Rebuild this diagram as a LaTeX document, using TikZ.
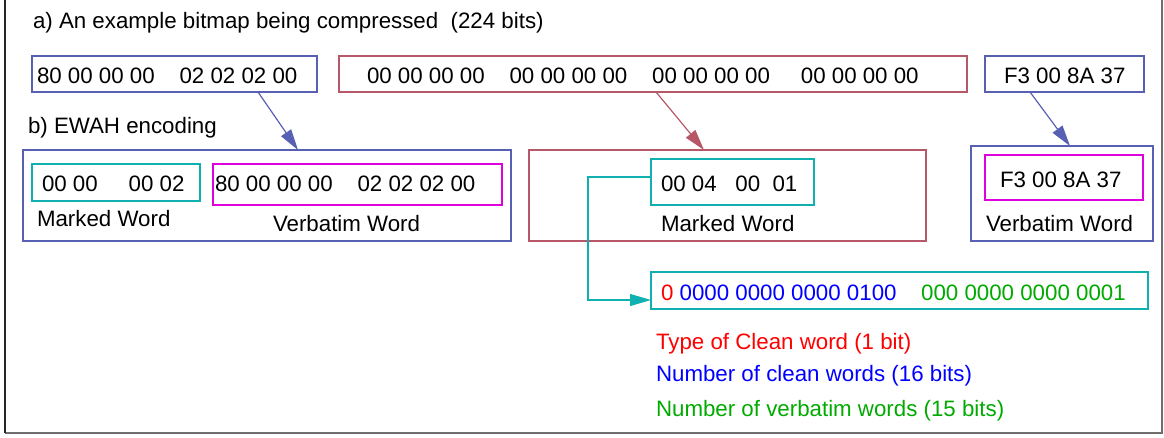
\documentclass[tikz,border=0pt]{standalone}
\usepackage{fontspec}
\setmainfont{Liberation Sans}
\usetikzlibrary{arrows.meta,calc}
\definecolor{bl}{RGB}{88,96,180}
\definecolor{rd}{RGB}{182,88,104}
\definecolor{cy}{RGB}{16,176,176}
\definecolor{mg}{RGB}{222,0,222}
\definecolor{tred}{RGB}{255,0,0}
\definecolor{tblue}{RGB}{0,0,255}
\definecolor{tgreen}{RGB}{0,170,0}
\definecolor{frameg}{RGB}{110,110,110}
\tikzset{
  box/.style={draw, line width=1.2pt, anchor=north west, outer sep=0pt, inner sep=0pt},
  txt/.style={anchor=base west, inner sep=0pt, outer sep=0pt, font=\fontsize{22.3pt}{26pt}\selectfont},
  conn/.style={line width=1.2pt, -{Triangle[length=21pt,width=12pt]}},
}
\begin{document}
\begin{tikzpicture}[x=1pt,y=-1pt]
\useasboundingbox (0,0) rectangle (1164,437);
% frame
\draw[frameg, line width=1.4pt] (5,433) -- (1162,433) -- (1162,0);
\draw[black!85, line width=1.4pt] (5,0) -- (5,433);

% titles
\node[txt] (ta) at (33,28.5) {a) An example bitmap being compressed~~(224 bits)};
\node[txt] (tb) at (28,133) {b) EWAH encoding};

% row a
\node[box, draw=bl, minimum width=285pt, minimum height=36pt] (A1) at (32,56) {};
\node[txt] (A1t) at (37,83.3) {80 00 00 00~~~~02 02 02 00};
\node[box, draw=rd, minimum width=628pt, minimum height=36pt] (A2) at (339,56) {};
\node[txt] (A2t) at (367,83.3) {00 00 00 00~~~~00 00 00 00~~~~00 00 00 00~~~~~00 00 00 00};
\node[box, draw=bl, minimum width=159pt, minimum height=36pt] (A3) at (985,56) {};
\node[txt] (A3t) at (1004,83.3) {F3 00 8A 37};

% row b, group 1
\node[box, draw=bl, minimum width=488pt, minimum height=91pt] (B1) at (23,150) {};
\node[box, draw=cy, minimum width=168pt, minimum height=37pt] (C1) at (32,164) {};
\node[txt] (C1t) at (42,191.7) {00 00~~~~~00 02};
\node[box, draw=mg, minimum width=289pt, minimum height=41pt] (M1) at (213,164) {};
\node[txt] (M1t) at (215,191.7) {80 00 00 00~~~~02 02 02 00};
\node[txt] (L1) at (37,226.7) {Marked Word};
\node[txt] (L2) at (273,231.7) {Verbatim Word};

% row b, group 2
\node[box, draw=rd, minimum width=397pt, minimum height=91pt] (B2) at (529,150) {};
\node[box, draw=cy, minimum width=163pt, minimum height=46pt] (C2) at (651,159) {};
\node[txt] (C2t) at (661,191.7) {00 04~~~00~~01};
\node[txt] (L3) at (661,231.7) {Marked Word};

% row b, group 3
\node[box, draw=bl, minimum width=182pt, minimum height=95pt] (B3) at (971,146) {};
\node[box, draw=mg, minimum width=158pt, minimum height=45pt] (M3) at (985,155) {};
\node[txt] (M3t) at (1000,187.3) {F3 00 8A 37};
\node[txt] (L4) at (986,231.7) {Verbatim Word};

% marked word detail
\node[box, draw=cy, minimum width=497pt, minimum height=37pt] (C3) at (651,272) {};
\node[txt] (C3t) at (661,300) {\textcolor{tred}{0}~\textcolor{tblue}{0000 0000 0000 0100}\hspace{1.1em}\textcolor{tgreen}{000 0000 0000 0001}};

% legend
\node[txt, text=tred] (g1) at (656,349) {Type of Clean word (1 bit)};
\node[txt, text=tblue] (g2) at (656,381) {Number of clean words (16 bits)};
\node[txt, text=tgreen] (g3) at (656,416.5) {Number of verbatim words (15 bits)};

% connectors
\draw[conn, bl] ($(A1.south west)+(226,0)$) -- ($(B1.north west)+(275,0)$);
\draw[conn, rd] ($(A2.south west)+(317,0)$) -- ($(B2.north west)+(175,0)$);
\draw[conn, bl] ($(A3.south west)+(45,0)$) -- ($(B3.north west)+(99,0)$);
\draw[conn, cy] ($(C2.north west)+(0,18)$) -- ++(-63,0) |- ($(C3.north west)+(0,28)$);
\end{tikzpicture}
\end{document}
